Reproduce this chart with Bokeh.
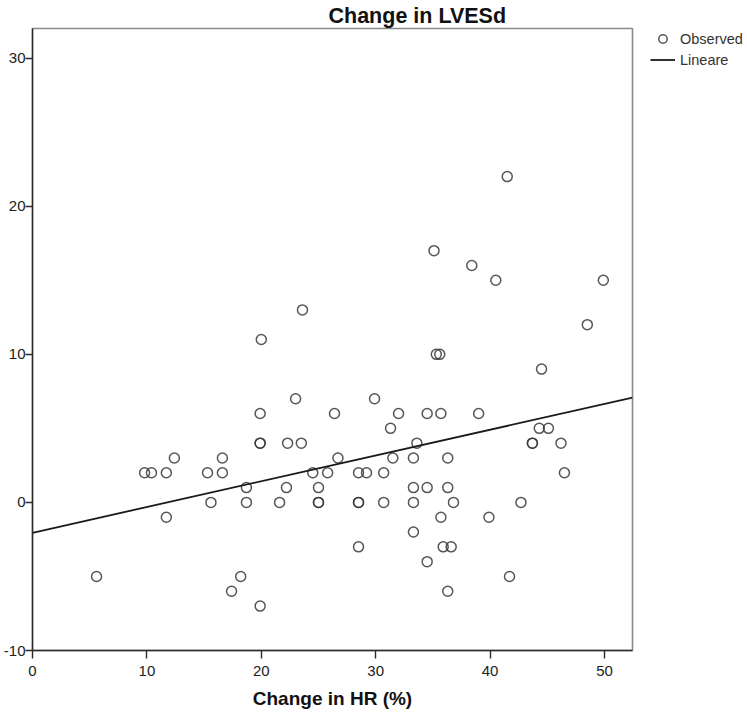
from bokeh.plotting import figure
from bokeh.models import Legend, LegendItem, FixedTicker, Range1d
from bokeh.embed import file_html
from bokeh.resources import INLINE

# Data
hr_change = [5.6, 9.8, 10.4, 11.7, 12.4, 11.7, 15.3, 16.6, 16.6, 15.6,
             18.7, 18.7, 18.2, 17.4, 19.9, 19.9, 19.9, 19.9, 23.0, 22.3,
             23.5, 22.2, 21.6, 20.0, 23.6, 35.1, 38.4, 35.3, 35.6, 41.5,
             40.5, 49.9, 48.5, 44.5, 29.9, 26.4, 32.0, 34.5, 35.7, 39.0,
             31.3, 33.6, 43.7, 43.7, 44.3, 45.1, 46.2, 46.5, 26.7, 31.5,
             33.3, 36.3, 24.5, 25.8, 28.5, 29.2, 30.7, 25.0, 33.3, 34.5,
             36.3, 25.0, 25.0, 28.5, 28.5, 30.7, 33.3, 36.8, 42.7, 35.7,
             39.9, 33.3, 28.5, 35.9, 36.6, 34.5, 41.7, 36.3]
lvesd_change = [-5, 2, 2, 2, 3, -1, 2, 2, 3, 0,
                1, 0, -5, -6, -7, 4, 4, 6, 7, 4,
                4, 1, 0, 11, 13, 17, 16, 10, 10, 22,
                15, 15, 12, 9, 7, 6, 6, 6, 6, 6,
                5, 4, 4, 4, 5, 5, 4, 2, 3, 3,
                3, 3, 2, 2, 2, 2, 2, 1, 1, 1,
                1, 0, 0, 0, 0, 0, 0, 0, 0, -1,
                -1, -2, -3, -3, -3, -4, -5, -6]
fit_intercept = -2.05
fit_slope = 0.174
x_ticks = [0, 10, 20, 30, 40, 50]
y_ticks = [-10, 0, 10, 20, 30]
y_tick_labels = ["-10", "0", "10", "20", "30"]
title_text = "Change in LVESd"
x_label = "Change in HR (%)"
legend_labels = ["Observed", "Lineare"]

X_MIN, X_MAX = 0, 52.45
Y_MIN, Y_MAX = -10, 32.0
FONT = "Liberation Sans"

p = figure(frame_width=600, frame_height=622,
           x_range=Range1d(X_MIN, X_MAX), y_range=Range1d(Y_MIN, Y_MAX),
           output_backend="svg", toolbar_location=None,
           min_border_left=0, min_border_right=112,
           min_border_top=0, min_border_bottom=0)
p.background_fill_color = "white"
p.border_fill_color = "white"
p.xgrid.visible = False
p.ygrid.visible = False
p.outline_line_color = "#8a8a8a"
p.outline_line_width = 1.6

# title
p.title.text = title_text
p.title.text_font = FONT
p.title.text_font_size = "21.5px"
p.title.text_font_style = "bold"
p.title.text_color = "#111111"
p.title.align = "left"
p.title.offset = 296
p.title.standoff = 2

# axes
for ax in (p.xaxis[0], p.yaxis[0]):
    ax.axis_line_color = "#2a2a2a"
    ax.axis_line_width = 1.4
    ax.major_tick_line_color = "#2a2a2a"
    ax.major_tick_line_width = 1.4
    ax.major_tick_in = 0
    ax.minor_tick_line_color = None
    ax.major_label_text_font = FONT
    ax.major_label_text_font_size = "15px"
    ax.major_label_text_color = "#222222"

p.xaxis.ticker = FixedTicker(ticks=x_ticks)
p.yaxis.ticker = FixedTicker(ticks=y_ticks)
p.yaxis.major_label_overrides = dict(zip(y_ticks, y_tick_labels))
p.xaxis.major_tick_out = 8
p.xaxis.major_label_standoff = 7
p.yaxis.major_tick_out = 7
p.yaxis.major_label_standoff = 0
p.xaxis.axis_label = x_label
p.xaxis.axis_label_text_font = FONT
p.xaxis.axis_label_text_font_size = "19px"
p.xaxis.axis_label_text_font_style = "bold"
p.xaxis.axis_label_text_color = "#111111"
p.xaxis.axis_label_standoff = 9

# observed points
pts = p.scatter(hr_change, lvesd_change, marker="circle", size=10,
                fill_color=None, line_color="#383838", line_width=1.5,
                line_alpha=0.85)

# linear fit
fit_x = [X_MIN, X_MAX]
fit_y = [fit_intercept + fit_slope * v for v in fit_x]
ln = p.line(fit_x, fit_y, line_color="#1a1a1a", line_width=1.8)

legend = Legend(items=[LegendItem(label=legend_labels[0], renderers=[pts]),
                       LegendItem(label=legend_labels[1], renderers=[ln])],
                location=(18, 580), orientation="vertical",
                glyph_width=25, glyph_height=21, label_height=21,
                spacing=0, padding=0, margin=0, label_standoff=5,
                label_text_font=FONT, label_text_font_size="14.5px",
                label_text_color="#333333",
                border_line_color=None, background_fill_alpha=0)
p.add_layout(legend, "right")

open("out.html", "w").write(file_html(p, INLINE))
